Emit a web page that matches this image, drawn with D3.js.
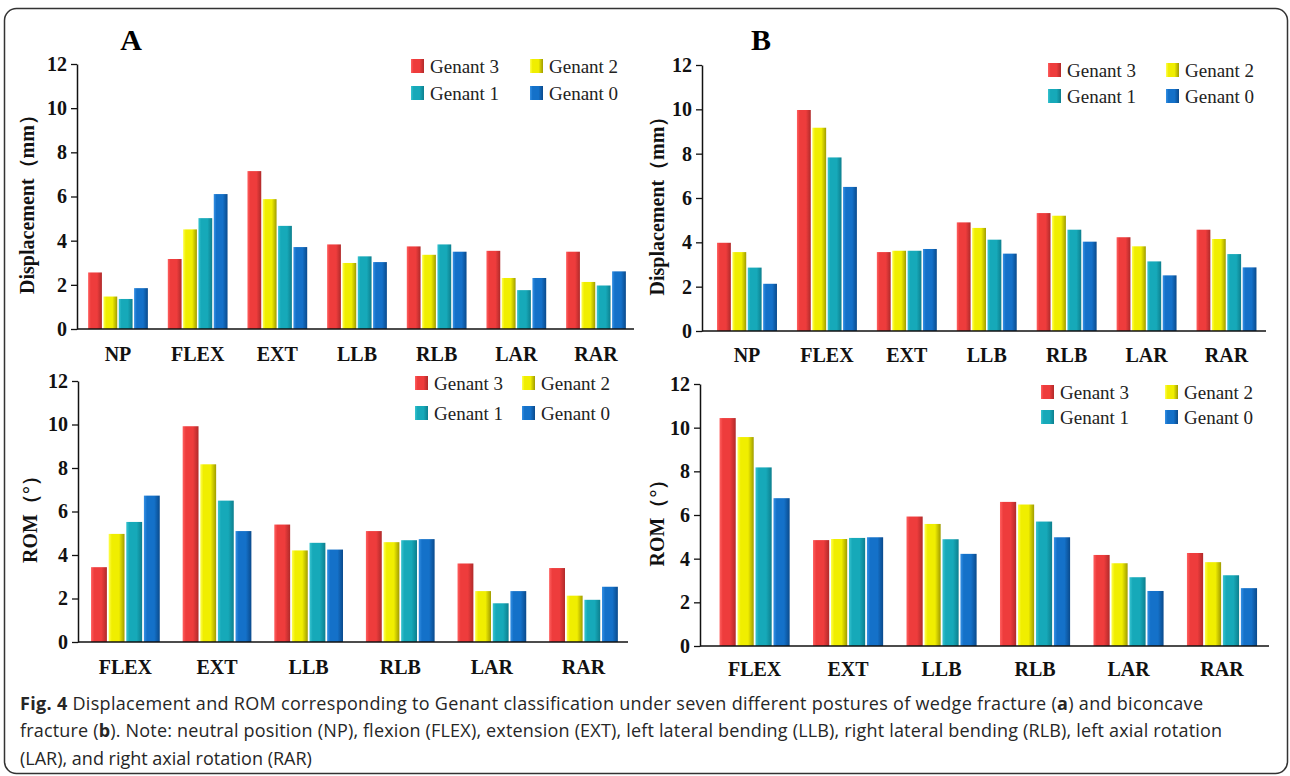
<!DOCTYPE HTML>
<html>

<head>
  <meta charset="utf-8">
  <title>Genant displacement and ROM</title>
  <script src="https://d3js.org/d3.v7.min.js"></script>
  <style>
    body { margin: 0; background: #fff; }
    svg text { font-family: "Liberation Serif", "Times New Roman", serif; }
  </style>
</head>

<body>
  <script>
    // categories
    const posturesAll = ['NP', 'FLEX', 'EXT', 'LLB', 'RLB', 'LAR', 'RAR'];
    const posturesRom = ['FLEX', 'EXT', 'LLB', 'RLB', 'LAR', 'RAR'];
    const genants = ['Genant 3', 'Genant 2', 'Genant 1', 'Genant 0'];
    const yTicks = [0, 2, 4, 6, 8, 10, 12];

    // values per posture: [Genant 3, Genant 2, Genant 1, Genant 0]
    const dispWedge = [
      [2.56, 1.47, 1.36, 1.85],
      [3.17, 4.51, 5.02, 6.11],
      [7.15, 5.88, 4.67, 3.71],
      [3.83, 2.99, 3.29, 3.03],
      [3.74, 3.36, 3.83, 3.50],
      [3.54, 2.31, 1.76, 2.31],
      [3.50, 2.13, 1.97, 2.61],
    ];
    const dispBiconcave = [
      [3.98, 3.56, 2.86, 2.13],
      [9.97, 9.17, 7.83, 6.50],
      [3.56, 3.62, 3.62, 3.70],
      [4.90, 4.65, 4.12, 3.49],
      [5.32, 5.20, 4.57, 4.03],
      [4.23, 3.82, 3.14, 2.51],
      [4.57, 4.15, 3.47, 2.87],
    ];
    const romWedge = [
      [3.44, 4.97, 5.52, 6.73],
      [9.92, 8.17, 6.50, 5.10],
      [5.40, 4.21, 4.56, 4.25],
      [5.10, 4.59, 4.68, 4.73],
      [3.61, 2.34, 1.78, 2.34],
      [3.40, 2.13, 1.94, 2.54],
    ];
    const romBiconcave = [
      [10.44, 9.57, 8.18, 6.77],
      [4.85, 4.90, 4.95, 4.98],
      [5.93, 5.59, 4.89, 4.22],
      [6.60, 6.48, 5.70, 4.98],
      [4.17, 3.79, 3.15, 2.52],
      [4.26, 3.84, 3.24, 2.65],
    ];

    const colors = [
      { id: 'g3', light: '#ff6060', base: '#ee3c3c', dark: '#b02a2a' },
      { id: 'g2', light: '#ffff50', base: '#f0ee00', dark: '#a09c00' },
      { id: 'g1', light: '#38c4d0', base: '#16a9b9', dark: '#0d7f8e' },
      { id: 'g0', light: '#3590e4', base: '#1471c9', dark: '#0a4a8c' },
    ];

    const W = 1290, H = 776;
    const svg = d3.select('body').append('svg')
      .attr('width', W)
      .attr('height', H);

    const defs = svg.append('defs');
    colors.forEach(c => {
      const g = defs.append('linearGradient')
        .attr('id', 'grad-' + c.id)
        .attr('x1', '0%').attr('x2', '100%')
        .attr('y1', '0%').attr('y2', '0%');
      g.append('stop').attr('offset', '0%').attr('stop-color', c.light);
      g.append('stop').attr('offset', '20%').attr('stop-color', c.base);
      g.append('stop').attr('offset', '65%').attr('stop-color', c.base);
      g.append('stop').attr('offset', '100%').attr('stop-color', c.dark);
    });

    // frame
    svg.append('rect')
      .attr('x', 4.5).attr('y', 8.5)
      .attr('width', 1283).attr('height', 765)
      .attr('rx', 12)
      .attr('fill', 'none')
      .attr('stroke', '#333')
      .attr('stroke-width', 1.5);

    const panels = [
      {
        cats: posturesAll, data: dispWedge, title: 'Displacement（mm）',
        axisX: 77, axisEnd: 634, y0: 329, y12: 64, c0: 118, cN: 596,
        labelY: 361, titleX: 34, letter: 'A', letterX: 131,
        legX: 411, legY: 66, legCol: 119, legRow: 27,
      },
      {
        cats: posturesAll, data: dispBiconcave, title: 'Displacement（mm）',
        axisX: 702, axisEnd: 1266, y0: 331, y12: 65, c0: 747, cN: 1226.5,
        labelY: 362, titleX: 664, letter: 'B', letterX: 761,
        legX: 1048, legY: 70, legCol: 118, legRow: 26,
      },
      {
        cats: posturesRom, data: romWedge, title: 'ROM（°）',
        axisX: 78, axisEnd: 628, y0: 642, y12: 381, c0: 125.4, cN: 583.5,
        labelY: 674, titleX: 37, letter: null,
        legX: 415, legY: 383, legCol: 107, legRow: 30,
      },
      {
        cats: posturesRom, data: romBiconcave, title: 'ROM（°）',
        axisX: 700, axisEnd: 1269, y0: 646, y12: 384, c0: 754.6, cN: 1222,
        labelY: 676, titleX: 664, letter: null,
        legX: 1041, legY: 392, legCol: 124, legRow: 25,
      },
    ];

    panels.forEach(p => {
      const g = svg.append('g');
      const step = (p.cN - p.c0) / (p.cats.length - 1);

      const x = d3.scaleBand()
        .domain(p.cats)
        .range([p.c0 - step / 2, p.cN + step / 2])
        .paddingInner(0.25)
        .paddingOuter(0.125);

      const xs = d3.scaleBand()
        .domain(genants)
        .range([0, x.bandwidth()])
        .paddingInner(0.1);

      const y = d3.scaleLinear()
        .domain([0, 12])
        .range([p.y0, p.y12]);

      // bars
      const groups = g.selectAll('g.cat')
        .data(p.data)
        .join('g')
        .attr('class', 'cat')
        .attr('transform', (d, i) => `translate(${x(p.cats[i])},0)`);

      groups.selectAll('rect')
        .data(d => d)
        .join('rect')
        .attr('x', (d, j) => xs(genants[j]))
        .attr('y', d => y(d))
        .attr('width', xs.bandwidth())
        .attr('height', d => y(0) - y(d))
        .attr('fill', (d, j) => `url(#grad-${colors[j].id})`);

      // y axis
      const yAxis = g.append('g')
        .attr('transform', `translate(${p.axisX},0)`)
        .call(d3.axisLeft(y).tickValues(yTicks).tickSize(6).tickSizeOuter(0).tickPadding(4));
      yAxis.select('.domain').attr('stroke', '#111').attr('stroke-width', 1.5);
      yAxis.selectAll('.tick line').attr('stroke', '#111').attr('stroke-width', 1.3);
      yAxis.selectAll('.tick text')
        .style('font-family', '"Liberation Serif", serif')
        .attr('font-size', 20)
        .attr('font-weight', 'bold')
        .attr('fill', '#111');

      // x baseline
      g.append('line')
        .attr('x1', p.axisX).attr('x2', p.axisEnd)
        .attr('y1', y(0)).attr('y2', y(0))
        .attr('stroke', '#111')
        .attr('stroke-width', 1.5);

      // category labels
      g.selectAll('text.cat-label')
        .data(p.cats)
        .join('text')
        .attr('class', 'cat-label')
        .attr('x', d => x(d) + x.bandwidth() / 2)
        .attr('y', p.labelY)
        .attr('text-anchor', 'middle')
        .attr('font-size', 20)
        .attr('font-weight', 'bold')
        .attr('fill', '#111')
        .text(d => d);

      // y title
      g.append('text')
        .attr('transform', `translate(${p.titleX},${(p.y0 + p.y12) / 2 + 3}) rotate(-90)`)
        .attr('text-anchor', 'middle')
        .attr('font-size', 20)
        .attr('font-weight', 'bold')
        .attr('fill', '#111')
        .text(p.title);

      // panel letter
      if (p.letter) {
        g.append('text')
          .attr('x', p.letterX)
          .attr('y', 50)
          .attr('text-anchor', 'middle')
          .attr('font-size', 30)
          .attr('font-weight', 'bold')
          .attr('fill', '#000')
          .text(p.letter);
      }

      // legend
      const leg = g.selectAll('g.leg')
        .data(genants)
        .join('g')
        .attr('class', 'leg')
        .attr('transform', (d, i) =>
          `translate(${p.legX + (i % 2) * p.legCol},${p.legY + Math.floor(i / 2) * p.legRow})`);
      leg.append('rect')
        .attr('x', 0).attr('y', -7)
        .attr('width', 13).attr('height', 14)
        .attr('fill', (d, i) => `url(#grad-${colors[i].id})`);
      leg.append('text')
        .attr('x', 19).attr('y', 6.5)
        .attr('font-size', 19)
        .attr('fill', '#222')
        .text(d => d);
    });

    // caption
    const cap = svg.append('g')
      .attr('font-size', 18)
      .attr('fill', '#262626');

    const line1 = cap.append('text')
      .attr('x', 20).attr('y', 710)
      .attr('textLength', 1183).attr('lengthAdjust', 'spacing')
      .style('font-family', '"Open Sans", sans-serif');
    line1.append('tspan').attr('font-weight', 'bold').text('Fig. 4');
    line1.append('tspan').text(' Displacement and ROM corresponding to Genant classification under seven different postures of wedge fracture (');
    line1.append('tspan').attr('font-weight', 'bold').text('a');
    line1.append('tspan').text(') and biconcave');

    const line2 = cap.append('text')
      .attr('x', 20).attr('y', 737)
      .attr('textLength', 1202).attr('lengthAdjust', 'spacing')
      .style('font-family', '"Open Sans", sans-serif');
    line2.append('tspan').text('fracture (');
    line2.append('tspan').attr('font-weight', 'bold').text('b');
    line2.append('tspan').text('). Note: neutral position (NP), flexion (FLEX), extension (EXT), left lateral bending (LLB), right lateral bending (RLB), left axial rotation');

    cap.append('text')
      .attr('x', 20).attr('y', 765)
      .style('font-family', '"Open Sans", sans-serif')
      .text('(LAR), and right axial rotation (RAR)');
  </script>
</body>

</html>
